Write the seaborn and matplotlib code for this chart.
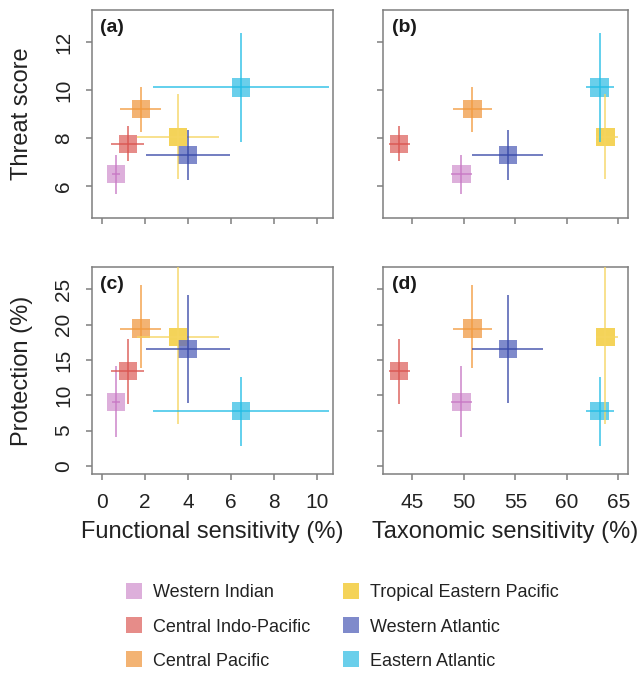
import matplotlib
matplotlib.use("Agg")
import matplotlib.pyplot as plt
from matplotlib.lines import Line2D
import seaborn as sns
import pandas as pd

regions = ["Western Indian", "Central Indo-Pacific", "Central Pacific",
           "Tropical Eastern Pacific", "Western Atlantic", "Eastern Atlantic"]
fill_colors = ["#D59BD2", "#E0706C", "#F0A050", "#F2C830", "#5F6DBE", "#45C3E6"]
line_colors = ["#C878C4", "#DA5550", "#F29A3E", "#F6D560", "#3848A8", "#22BDE6"]

func = [0.65, 1.20, 1.81, 3.53, 3.98, 6.45]
func_lo = [0.45, 0.42, 0.84, 1.63, 2.03, 2.39]
func_hi = [0.85, 1.95, 2.74, 5.44, 5.95, 10.55]

tax = [49.76, 43.70, 50.83, 63.73, 54.28, 63.18]
tax_lo = [48.72, 42.73, 48.95, 62.80, 50.83, 61.89]
tax_hi = [50.82, 44.74, 52.77, 64.96, 57.68, 64.57]

threat = [6.50, 7.75, 9.20, 8.05, 7.30, 10.11]
threat_lo = [5.67, 7.03, 8.25, 6.30, 6.25, 7.85]
threat_hi = [7.30, 8.50, 10.12, 9.83, 8.33, 12.39]

prot = [9.08, 13.42, 19.45, 18.27, 16.53, 7.77]
prot_lo = [4.14, 8.76, 13.80, 5.93, 8.85, 2.87]
prot_hi = [14.12, 17.94, 25.56, 31.00, 24.15, 12.62]

func_ticks = [0, 2, 4, 6, 8, 10]
tax_ticks = [45, 50, 55, 60, 65]
threat_ticks = [6, 8, 10, 12]
prot_ticks = [0, 5, 10, 15, 20, 25]

df = pd.DataFrame({"region": regions, "func": func, "func_lo": func_lo, "func_hi": func_hi,
                   "tax": tax, "tax_lo": tax_lo, "tax_hi": tax_hi,
                   "threat": threat, "threat_lo": threat_lo, "threat_hi": threat_hi,
                   "prot": prot, "prot_lo": prot_lo, "prot_hi": prot_hi})

sns.set_theme(style="white")
plt.rcParams["font.family"] = ["Liberation Sans", "DejaVu Sans"]

W, H = 644, 675
fig = plt.figure(figsize=(W / 100, H / 100), dpi=100)

def frac(l, t, r, b):
    return [l / W, 1 - b / H, (r - l) / W, (b - t) / H]

ax_a = fig.add_axes(frac(92, 10, 333, 218))
ax_b = fig.add_axes(frac(383, 10, 628, 218))
ax_c = fig.add_axes(frac(92, 267, 333, 474))
ax_d = fig.add_axes(frac(383, 267, 628, 474))

palette = dict(zip(regions, fill_colors))

def panel(ax, xc, yc, label):
    for i, row in df.iterrows():
        ax.plot([row[xc + "_lo"], row[xc + "_hi"]], [row[yc], row[yc]],
                color=line_colors[i], lw=1.1, alpha=0.9, zorder=3, solid_capstyle="butt")
        ax.plot([row[xc], row[xc]], [row[yc + "_lo"], row[yc + "_hi"]],
                color=line_colors[i], lw=1.1, alpha=0.9, zorder=3, solid_capstyle="butt")
    sns.scatterplot(data=df, x=xc, y=yc, hue="region", palette=palette, marker="s",
                    s=175, alpha=0.8, linewidth=0, legend=False, ax=ax, zorder=2)
    ax.text(0.035, 0.955, label, transform=ax.transAxes, ha="left", va="top",
            fontsize=14, fontweight="bold", color="#1a1a1a")
    ax.set_xlabel("")
    ax.set_ylabel("")
    for s in ax.spines.values():
        s.set_color("#7f7f7f")
        s.set_linewidth(1.1)
    ax.tick_params(axis="both", direction="out", length=4.5, width=1.1, color="#7f7f7f",
                   labelsize=15, labelcolor="#222222", pad=9,
                   bottom=True, left=True)

panel(ax_a, "func", "threat", "(a)")
panel(ax_b, "tax", "threat", "(b)")
panel(ax_c, "func", "prot", "(c)")
panel(ax_d, "tax", "prot", "(d)")

for ax in (ax_a, ax_c):
    ax.set_xlim(-0.47, 10.74)
    ax.set_xticks(func_ticks)
for ax in (ax_b, ax_d):
    ax.set_xlim(42.15, 65.93)
    ax.set_xticks(tax_ticks)
for ax in (ax_a, ax_b):
    ax.set_ylim(4.67, 13.33)
    ax.set_yticks(threat_ticks)
    ax.set_xticklabels([])
for ax in (ax_c, ax_d):
    ax.set_ylim(-1.13, 28.15)
    ax.set_yticks(prot_ticks)
for ax in (ax_b, ax_d):
    ax.set_yticklabels([])
for ax in (ax_a, ax_c):
    for t in ax.get_yticklabels():
        t.set_rotation(90)
        t.set_va("center")

ax_a.set_ylabel("Threat score", fontsize=17, labelpad=15, color="#222222")
ax_c.set_ylabel("Protection (%)", fontsize=17, labelpad=15, color="#222222")
ax_c.set_xlabel("Functional sensitivity (%)", fontsize=17, labelpad=7, color="#222222")
ax_d.set_xlabel("Taxonomic sensitivity (%)", fontsize=17, labelpad=7, color="#222222")

handles = [Line2D([0], [0], marker="s", linestyle="none", markersize=11.5,
                  markerfacecolor=c, markeredgewidth=0, alpha=0.8) for c in fill_colors]
fig.legend(handles, regions, ncol=2, loc="center", bbox_to_anchor=(342 / W, 1 - 627 / H),
           frameon=False, fontsize=13, handletextpad=0.6, columnspacing=1.8,
           labelspacing=0.95, handlelength=0.9, labelcolor="#222222")

fig.savefig("out.png", dpi=100)
